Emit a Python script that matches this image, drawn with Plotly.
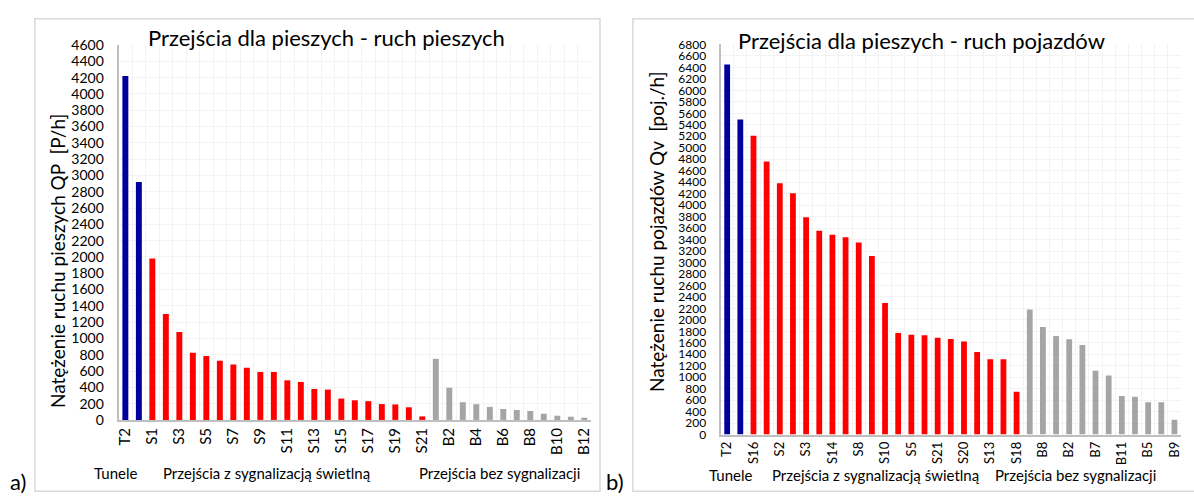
import plotly.graph_objects as go

# a) pedestrian flow QP [P/h]
ped_tunnel_names = ["T2", "T1"]
ped_tunnel_vals = [4220, 2920]
ped_signal_names = ["S1", "S2", "S3", "S4", "S5", "S6", "S7", "S8", "S9", "S10", "S11",
                    "S12", "S13", "S14", "S15", "S16", "S17", "S18", "S19", "S20", "S21"]
ped_signal_vals = [1980, 1300, 1080, 825, 785, 727, 680, 640, 588, 588, 486,
                   466, 380, 372, 262, 241, 230, 194, 190, 155, 43]
ped_free_names = ["B1", "B2", "B3", "B4", "B5", "B6", "B7", "B8", "B9", "B10", "B11", "B12"]
ped_free_vals = [750, 395, 217, 193, 160, 134, 122, 110, 75, 51, 39, 27]

# b) vehicle flow Qv [poj./h]
veh_tunnel_names = ["T2", "T1"]
veh_tunnel_vals = [6450, 5490]
veh_signal_names = ["S16", "S1", "S2", "S4", "S3", "S6", "S14", "S7", "S8", "S9", "S10",
                    "S11", "S5", "S12", "S21", "S15", "S20", "S17", "S13", "S19", "S18"]
veh_signal_vals = [5210, 4760, 4380, 4205, 3790, 3555, 3485, 3440, 3350, 3115, 2295,
                   1770, 1740, 1730, 1690, 1665, 1625, 1440, 1315, 1315, 745]
veh_free_names = ["B1", "B8", "B3", "B2", "B4", "B7", "B6", "B11", "B10", "B5", "B12", "B9"]
veh_free_vals = [2180, 1875, 1720, 1660, 1560, 1115, 1030, 675, 660, 565, 565, 260]

group_labels = ["Tunele", "Przejścia z sygnalizacją świetlną", "Przejścia bez sygnalizacji"]

BLUE = "#00009C"
RED = "#FF0000"
GRAY = "#A5A5A5"
FONT = "Lato"

W, H = 1194, 503


def px(x):
    return x / W


def py(y):
    return 1 - y / H


fig = go.Figure()

for names, vals, color in [(ped_tunnel_names, ped_tunnel_vals, BLUE),
                           (ped_signal_names, ped_signal_vals, RED),
                           (ped_free_names, ped_free_vals, GRAY)]:
    fig.add_trace(go.Bar(x=names, y=vals, marker_color=color, marker_line_width=0,
                         xaxis="x", yaxis="y", showlegend=False))

for names, vals, color in [(veh_tunnel_names, veh_tunnel_vals, BLUE),
                           (veh_signal_names, veh_signal_vals, RED),
                           (veh_free_names, veh_free_vals, GRAY)]:
    fig.add_trace(go.Bar(x=names, y=vals, marker_color=color, marker_line_width=0,
                         xaxis="x2", yaxis="y2", showlegend=False))

ped_cats = ped_tunnel_names + ped_signal_names + ped_free_names
veh_cats = veh_tunnel_names + veh_signal_names + veh_free_names


def xaxis_cfg(cats, domain, anchor, size):
    return dict(domain=domain, anchor=anchor, type="category",
                categoryorder="array", categoryarray=cats,
                tickmode="array", tickvals=cats,
                ticktext=[c if i % 2 == 0 else "" for i, c in enumerate(cats)],
                tickangle=-90, tickson="boundaries", ticks="",
                tickfont=dict(size=size, color="#000000", family=FONT),
                showgrid=True, gridcolor="#F3F3F3", gridwidth=1,
                showline=True, linecolor="#BFBFBF", linewidth=2,
                range=[-0.5, len(cats) - 0.5], fixedrange=True)


def yaxis_cfg(domain, anchor, top, size):
    return dict(domain=domain, anchor=anchor, range=[0, top], dtick=200, tick0=0,
                tickfont=dict(size=size, color="#000000", family=FONT),
                showgrid=True, gridcolor="#F3F3F3", gridwidth=1,
                showline=True, linecolor="#BFBFBF", linewidth=2,
                ticks="", ticklabelstandoff=10, zeroline=False)


layout = go.Layout(
    width=W, height=H,
    margin=dict(l=0, r=0, t=0, b=0),
    paper_bgcolor="white", plot_bgcolor="white",
    font=dict(family=FONT, color="#000000"),
    bargap=0.56,
    xaxis=xaxis_cfg(ped_cats, [px(116), px(590)], "y", 15),
    yaxis=yaxis_cfg([py(425.3), py(37.3)], "x", 4600, 14),
    xaxis2=xaxis_cfg(veh_cats, [px(720), px(1182)], "y2", 13),
    yaxis2=yaxis_cfg([py(440.5), py(36.7)], "x2", 6800, 12),
)
fig = go.Figure(data=fig.data, layout=layout)

# chart frames
fig.add_shape(type="rect", xref="paper", yref="paper",
              x0=px(32), x1=px(599), y0=py(499), y1=py(10),
              line=dict(color="#D9D9D9", width=1.5))
fig.add_shape(type="rect", xref="paper", yref="paper",
              x0=px(632), x1=px(1200), y0=py(499), y1=py(10),
              line=dict(color="#D9D9D9", width=1.5))

ann = []
# titles
ann.append(dict(text="Przejścia dla pieszych - ruch pieszych", x=px(325), y=py(30),
                font=dict(size=22)))
ann.append(dict(text="Przejścia dla pieszych - ruch pojazdów", x=px(922), y=py(33),
                font=dict(size=22)))
# y titles
ann.append(dict(text="Natężenie ruchu pieszych QP  [P/h]", x=px(54), y=py(261),
                textangle=-90, font=dict(size=19)))
ann.append(dict(text="Natężenie ruchu pojazdów Qv  [poj./h]", x=px(655), y=py(231),
                textangle=-90, font=dict(size=19)))
# group labels
for lbl, xc in zip(group_labels, [113, 265, 498]):
    ann.append(dict(text=lbl, x=px(xc), y=py(480), font=dict(size=15)))
for lbl, xc in zip(group_labels, [730, 876, 1076]):
    ann.append(dict(text=lbl, x=px(xc), y=py(482), font=dict(size=15)))
# panel letters
ann.append(dict(text="a)", x=px(15), y=py(489), font=dict(size=22)))
ann.append(dict(text="b)", x=px(614), y=py(489), font=dict(size=22)))

for a in ann:
    a.update(xref="paper", yref="paper", showarrow=False, xanchor="center", yanchor="middle")
    fig.add_annotation(**a)

# page has a default body margin; remove it so the figure sits at the top-left corner
fig.write_html("out.html", config={"displayModeBar": False},
               post_script="document.body.style.margin='0px';document.body.style.overflow='hidden';")
